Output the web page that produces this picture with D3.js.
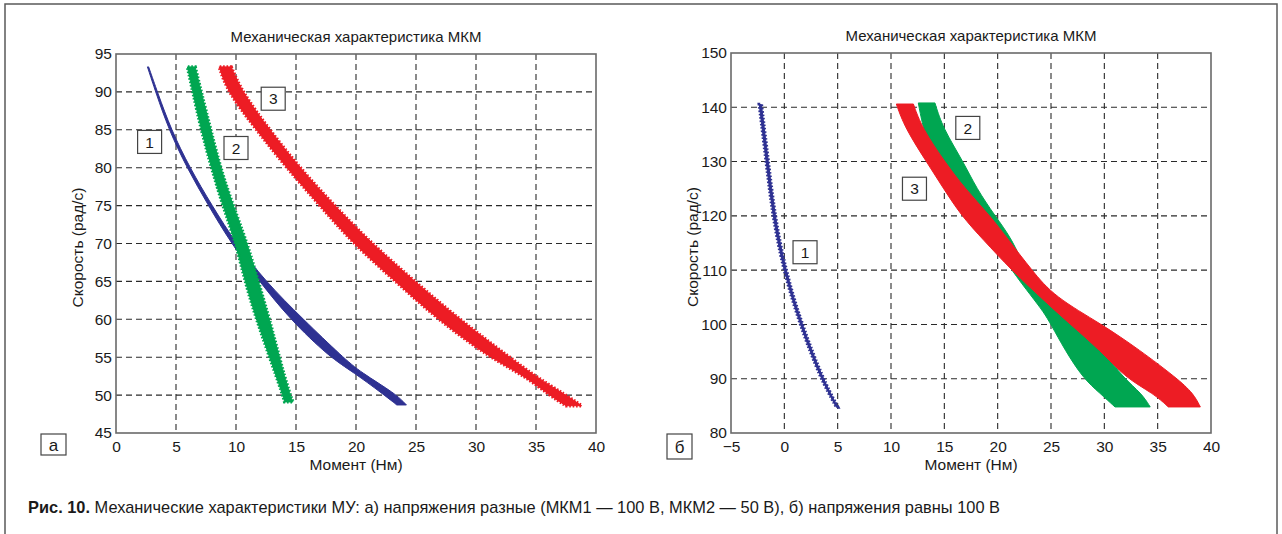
<!DOCTYPE html>
<html>
<head>
<meta charset="utf-8">
<script src="https://cdn.jsdelivr.net/npm/d3@7/dist/d3.min.js"></script>
<style>
  body { margin: 0; background: #fff; }
  svg { display: block; font-family: "Liberation Sans", Arial, sans-serif; }
</style>
</head>
<body>
<div id="chart"></div>
<script>
const chartTitle = "Механическая характеристика МКМ";
const xLabel = "Момент (Нм)";
const yLabel = "Скорость (рад/с)";
const captionBold = "Рис. 10.";
const captionText = " Механические характеристики МУ: а) напряжения разные (МКМ1 — 100 В, МКМ2 — 50 В), б) напряжения равны 100 В";

// panel а
const aTorqueTicks = [0, 5, 10, 15, 20, 25, 30, 35, 40];
const aSpeedTicks = [45, 50, 55, 60, 65, 70, 75, 80, 85, 90, 95];

const aSpeed1 = [93.3, 90, 85, 80, 75, 70, 65, 60, 55, 53, 50.2, 48.7];
const aLo1 = [2.62, 3.3, 4.4, 5.9, 7.7, 9.6, 11.95, 14.5, 17.8, 19.8, 22.2, 23.4];
const aHi1 = [2.72, 3.45, 4.6, 6.15, 8.0, 10.0, 12.45, 15.6, 18.9, 20.4, 23.3, 24.2];

const aSpeed2 = [93.3, 90, 85, 80, 75, 70, 65, 60, 55, 50, 49.1];
const aLo2 = [5.95, 6.4, 7.1, 7.95, 8.9, 10.0, 10.75, 11.7, 12.8, 13.9, 14.05];
const aHi2 = [6.6, 7.1, 7.9, 8.7, 9.75, 10.95, 11.85, 12.8, 13.6, 14.5, 14.75];

const aSpeed3 = [93.3, 90, 85, 80, 75, 70, 65, 60, 55, 52.4, 50, 48.6];
const aLo3 = [8.6, 9.3, 11.7, 14.2, 17.0, 19.75, 23.3, 26.8, 31.1, 34.2, 36.1, 37.5];
const aHi3 = [9.6, 10.5, 12.8, 15.3, 18.2, 21.3, 24.9, 28.6, 32.8, 35.0, 37.5, 38.8];

const aTagNames = ["1", "2", "3"];
const aTagTorque = [2.8, 10.0, 13.1];
const aTagSpeed = [83.4, 82.6, 89.1];

// panel б
const bTorqueTicks = [-5, 0, 5, 10, 15, 20, 25, 30, 35, 40];
const bSpeedTicks = [80, 90, 100, 110, 120, 130, 140, 150];

const bSpeed1 = [140.5, 130, 120, 110, 100, 90, 84.8];
const bLo1 = [-2.35, -1.7, -1.1, -0.08, 1.45, 3.4, 4.88];
const bHi1 = [-2.15, -1.5, -0.9, 0.1, 1.63, 3.6, 5.0];

const bSpeed2 = [140.8, 136.2, 129.9, 125.1, 120, 115.6, 110, 105.1, 102.3, 100, 95.3, 90.1, 87.3, 84.8];
const bLo2 = [12.56, 13.0, 14.0, 15.5, 17.0, 19.4, 21.3, 23.2, 24.3, 25.0, 26.3, 28.0, 29.6, 31.0];
const bHi2 = [14.12, 14.85, 16.8, 18.0, 19.75, 21.4, 22.6, 24.2, 25.8, 27.25, 29.8, 31.8, 33.5, 34.3];

const bSpeed3 = [140.6, 136.2, 129.9, 125.1, 120, 115.6, 110, 105.1, 100, 95.3, 90.1, 87.3, 84.8];
const bLo3 = [10.5, 11.3, 13.35, 14.9, 16.6, 18.65, 21.3, 23.97, 26.8, 29.6, 32.0, 34.6, 36.0];
const bHi3 = [12.1, 12.9, 15.06, 16.9, 19.3, 21.0, 23.2, 25.3, 29.8, 33.3, 36.8, 38.35, 39.0];

const bTagNames = ["1", "2", "3"];
const bTagTorque = [1.94, 17.2, 12.2];
const bTagSpeed = [113.3, 136.2, 125.0];

const colors = ["#2e3192", "#00a651", "#ed1c24"];

const band = (speed, lo, hi) => speed.map((s, i) => ({ s, lo: lo[i], hi: hi[i] }));

class MechChart {
  constructor(svg, left, top, width, height, xDomain, yDomain) {
    this.svg = svg;
    this.left = left;
    this.top = top;
    this.width = width;
    this.height = height;
    this.x = d3.scaleLinear().domain(xDomain).range([left, left + width]);
    this.y = d3.scaleLinear().domain(yDomain).range([top + height, top]);
    this.g = svg.append("g");
  }

  render(series, xTicks, yTicks, tags, letter, letterBox) {
    const x = this.x, y = this.y, g = this.g;
    const [x0, x1] = x.domain();
    const [y0, y1] = y.domain();

    // dashed grid
    g.selectAll("line.vgrid")
      .data(xTicks.filter((t) => t > x0 && t < x1))
      .join("line")
      .attr("class", "vgrid")
      .attr("x1", (d) => x(d)).attr("x2", (d) => x(d))
      .attr("y1", this.top).attr("y2", this.top + this.height)
      .attr("stroke", "#2a2a2a").attr("stroke-width", 1.1)
      .attr("stroke-dasharray", "6,4");

    g.selectAll("line.hgrid")
      .data(yTicks.filter((t) => t > y0 && t < y1))
      .join("line")
      .attr("class", "hgrid")
      .attr("x1", this.left).attr("x2", this.left + this.width)
      .attr("y1", (d) => y(d)).attr("y2", (d) => y(d))
      .attr("stroke", "#2a2a2a").attr("stroke-width", 1.1)
      .attr("stroke-dasharray", "6,4");

    const area = d3.area()
      .y((d) => y(d.s))
      .x0((d) => x(d.lo))
      .x1((d) => x(d.hi))
      .curve(d3.curveBasis);

    const bands = g.selectAll("g.band")
      .data(series)
      .join("g")
      .attr("class", "band");

    bands.append("path")
      .attr("d", (d) => area(d.values))
      .attr("fill", (d) => d.color)
      .attr("stroke", (d) => d.color)
      .attr("stroke-width", 1)
      .attr("stroke-linejoin", "round");

    // serrated edge, like the marker-studded traces of the original
    bands.filter((d) => d.jagged)
      .append("path")
      .attr("d", (d) => area(d.values))
      .attr("fill", "none")
      .attr("stroke", (d) => d.color)
      .attr("stroke-width", 3.4)
      .attr("stroke-dasharray", "1.6,1.8");

    g.append("rect")
      .attr("x", this.left).attr("y", this.top)
      .attr("width", this.width).attr("height", this.height)
      .attr("fill", "none").attr("stroke", "#6a6a6a").attr("stroke-width", 1.6);

    const ax = g.append("g")
      .attr("transform", `translate(0, ${this.top + this.height})`)
      .call(d3.axisBottom(x).tickValues(xTicks).tickSize(0).tickPadding(8).tickFormat((d) => d < 0 ? "−" + Math.abs(d) : d));
    const ay = g.append("g")
      .attr("transform", `translate(${this.left}, 0)`)
      .call(d3.axisLeft(y).tickValues(yTicks).tickSize(0).tickPadding(4));
    [ax, ay].forEach((a) => {
      a.select(".domain").remove();
      a.selectAll("text").attr("font-size", 15.5).attr("fill", "#1a1a1a")
        .attr("font-family", "'Liberation Sans', Arial, sans-serif");
    });

    const cx = this.left + this.width / 2;
    g.append("text")
      .attr("x", cx).attr("y", this.top - 12)
      .attr("text-anchor", "middle").attr("font-size", 15).attr("fill", "#1a1a1a")
      .text(chartTitle);
    g.append("text")
      .attr("x", cx).attr("y", this.top + this.height + 37)
      .attr("text-anchor", "middle").attr("font-size", 15.5).attr("fill", "#1a1a1a")
      .text(xLabel);
    g.append("text")
      .attr("transform", `translate(${this.left - 33}, ${this.top + this.height / 2 + 4}) rotate(-90)`)
      .attr("text-anchor", "middle").attr("font-size", 15.5).attr("fill", "#1a1a1a")
      .text(yLabel);

    const tg = g.selectAll("g.tag")
      .data(tags)
      .join("g")
      .attr("class", "tag")
      .attr("transform", (d) => `translate(${x(d.t)}, ${y(d.s)})`);
    tg.append("rect")
      .attr("x", -12).attr("y", -11.5).attr("width", 24).attr("height", 23)
      .attr("fill", "#fff").attr("stroke", "#444").attr("stroke-width", 1.2);
    tg.append("text")
      .attr("text-anchor", "middle").attr("dy", "0.36em")
      .attr("font-size", 15.5).attr("fill", "#1a1a1a")
      .text((d) => d.name);

    const lb = g.append("g").attr("transform", `translate(${letterBox[0]}, ${letterBox[1]})`);
    lb.append("rect")
      .attr("width", letterBox[2]).attr("height", letterBox[3])
      .attr("fill", "#fff").attr("stroke", "#444").attr("stroke-width", 1.2);
    lb.append("text")
      .attr("x", letterBox[2] / 2).attr("y", letterBox[3] / 2).attr("dy", "0.36em")
      .attr("text-anchor", "middle").attr("font-size", 17).attr("fill", "#1a1a1a")
      .text(letter);
  }
}

const svg = d3.select("#chart").append("svg").attr("width", 1282).attr("height", 534);

svg.append("rect")
  .attr("x", 5).attr("y", 4).attr("width", 1272).attr("height", 560)
  .attr("fill", "none").attr("stroke", "#5a5a5a").attr("stroke-width", 1.5);

const chartA = new MechChart(svg, 116, 54, 480, 379, [0, 40], [45, 95]);
chartA.render(
  [
    { color: colors[0], values: band(aSpeed1, aLo1, aHi1) },
    { color: colors[1], values: band(aSpeed2, aLo2, aHi2), jagged: true },
    { color: colors[2], values: band(aSpeed3, aLo3, aHi3), jagged: true },
  ],
  aTorqueTicks, aSpeedTicks,
  aTagNames.map((name, i) => ({ name, t: aTagTorque[i], s: aTagSpeed[i] })),
  "а", [41, 434, 25, 21]
);

const chartB = new MechChart(svg, 731, 53, 480, 380, [-5, 40], [80, 150]);
chartB.render(
  [
    { color: colors[0], values: band(bSpeed1, bLo1, bHi1), jagged: true },
    { color: colors[1], values: band(bSpeed2, bLo2, bHi2) },
    { color: colors[2], values: band(bSpeed3, bLo3, bHi3) },
  ],
  bTorqueTicks, bSpeedTicks,
  bTagNames.map((name, i) => ({ name, t: bTagTorque[i], s: bTagSpeed[i] })),
  "б", [667, 434, 25, 25]
);

const cap = svg.append("text")
  .attr("x", 28).attr("y", 513)
  .attr("font-size", 17).attr("fill", "#1a1a1a")
  .attr("font-family", "'Liberation Sans Narrow', 'Liberation Sans', Arial, sans-serif")
  .attr("textLength", 972).attr("lengthAdjust", "spacingAndGlyphs");
cap.append("tspan").attr("font-weight", "bold").text(captionBold);
cap.append("tspan").text(captionText);
</script>
</body>
</html>
